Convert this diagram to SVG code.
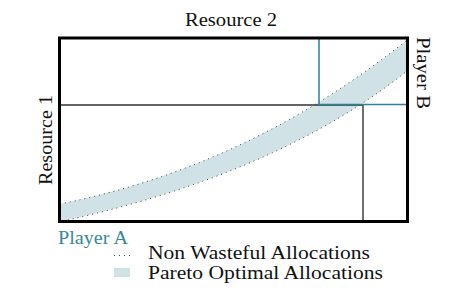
<svg xmlns="http://www.w3.org/2000/svg" width="462" height="298" viewBox="0 0 462 298">
<style>
text{font-family:'Liberation Serif','DejaVu Serif',serif;font-size:18.5px;fill:#111}
.teal{fill:#3a8899}
.band{fill:#d1e2e7;stroke:none}
.dots{fill:none;stroke:#444;stroke-width:1;stroke-dasharray:1 4}
.thin{stroke:#333;stroke-width:1.4;fill:none}
.tline{stroke:#2a8398;stroke-width:1.5;fill:none}
</style>
<rect width="462" height="298" fill="#fff"/>
<g id="pareto-band">
<path class="band" d="M59.5,204 C175,181 292,132 407.5,40 L407.5,71 C307,151 178,196 63,221 L59.5,221 Z"/>
<path class="dots" d="M60,204 C175,181 292,132 407,40"/>
<path class="dots" d="M63,221 C178,196 307,151 407,71"/>
</g>
<g id="allocation-lines">
<path class="thin" d="M59.5,105 H363 V221"/>
<path class="tline" d="M319,38 V104.5 H407.5"/>
</g>
<g id="box">
<rect x="59.5" y="38" width="348" height="183.5" fill="none" stroke="#000" stroke-width="3"/>
</g>
<g id="labels">
<text x="185" y="26" textLength="92" lengthAdjust="spacingAndGlyphs">Resource 2</text>
<text transform="translate(417,37) rotate(90)" textLength="72" lengthAdjust="spacingAndGlyphs">Player B</text>
<text transform="translate(52,185) rotate(-90)" textLength="90" lengthAdjust="spacingAndGlyphs">Resource 1</text>
<text class="teal" x="58" y="244" textLength="70" lengthAdjust="spacingAndGlyphs">Player A</text>
</g>
<g id="legend">
<path class="dots" d="M114,255.5 H133" stroke-dasharray="1 6"/>
<text x="148" y="259" style="font-size:19.5px" textLength="222" lengthAdjust="spacingAndGlyphs">Non Wasteful Allocations</text>
<rect class="band" x="114" y="268" width="16" height="9"/>
<text x="148" y="279" style="font-size:19.5px" textLength="235" lengthAdjust="spacingAndGlyphs">Pareto Optimal Allocations</text>
</g>
</svg>
